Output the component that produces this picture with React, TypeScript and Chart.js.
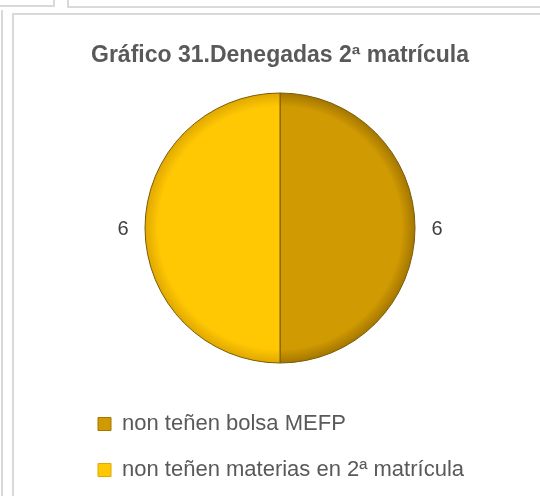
import React, { useEffect, useRef } from "react";
import { Chart, registerables } from "chart.js";

Chart.register(...registerables);

const TITLE = "Gráfico 31.Denegadas 2ª matrícula";
const categories = ["non teñen bolsa MEFP", "non teñen materias en 2ª matrícula"];
const values = [6, 6];
const sliceColors = ["#D09A02", "#FFC803"];
const sliceEdgeColors = ["#A47600", "#E0A800"];
const sliceBorder = "#7A5C08";
const PIE_RADIUS = 135;

const FONT = "'Liberation Sans', Arial, sans-serif";

const outsideLabels = {
  id: "outsideLabels",
  afterDatasetsDraw(chart: any) {
    const meta = chart.getDatasetMeta(0);
    const ctx = chart.ctx;
    ctx.save();
    ctx.font = `20px ${FONT}`;
    ctx.fillStyle = "#404040";
    ctx.textAlign = "center";
    ctx.textBaseline = "middle";
    meta.data.forEach((arc: any, i: number) => {
      const p = arc.getProps(["x", "y", "startAngle", "endAngle", "outerRadius"], true);
      const mid = (p.startAngle + p.endAngle) / 2;
      const r = p.outerRadius + 22;
      ctx.fillText(String(values[i]), p.x + Math.cos(mid) * r, p.y + Math.sin(mid) * r + 1);
    });
    ctx.restore();
  },
};

export default function App() {
  const ref = useRef<HTMLCanvasElement | null>(null);
  useEffect(() => {
    if (!ref.current) return;
    const chart = new Chart(ref.current, {
      type: "pie",
      data: {
        labels: categories,
        datasets: [
          {
            data: values,
            backgroundColor: (c: any) => {
              const ch = c.chart;
              const a = ch.chartArea;
              const i = c.dataIndex ?? 0;
              if (!a) return sliceColors[i];
              const cx = (a.left + a.right) / 2;
              const cy = (a.top + a.bottom) / 2;
              const g = ch.ctx.createRadialGradient(cx, cy, 0, cx, cy, PIE_RADIUS);
              g.addColorStop(0, sliceColors[i]);
              g.addColorStop(0.9, sliceColors[i]);
              g.addColorStop(1, sliceEdgeColors[i]);
              return g;
            },
            borderColor: sliceBorder,
            borderWidth: 1,
            radius: PIE_RADIUS,
          } as any,
        ],
      },
      options: {
        responsive: false,
        animation: false,
        layout: { padding: { top: 10, left: 74, right: 54, bottom: 5 } },
        plugins: {
          title: {
            display: true,
            text: TITLE,
            color: "#595959",
            font: { family: FONT, size: 23, weight: "bold", lineHeight: 1.0 },
            padding: { top: 34, bottom: 0 },
          },
          legend: {
            display: true,
            position: "bottom",
            align: "start",
            labels: {
              color: "#595959",
              font: { family: FONT, size: 22 },
              boxWidth: 13,
              boxHeight: 13,
              padding: 24,
              generateLabels: () =>
                categories.map((t, i) => ({
                  text: t,
                  fillStyle: sliceColors[i],
                  strokeStyle: sliceEdgeColors[i],
                  lineWidth: 1,
                  hidden: false,
                  index: i,
                  fontColor: "#595959",
                })),
            },
          },
          tooltip: { enabled: false },
        },
      },
      plugins: [outsideLabels],
    });
    return () => chart.destroy();
  }, []);

  const line = "#d9d9d9";
  return (
    <div style={{ position: "fixed", left: 0, top: 0, width: 540, height: 496, overflow: "hidden", background: "#fff" }}>
      <div style={{ position: "absolute", left: -10, top: -10, width: 61, height: 13, border: `2px solid ${line}` }} />
      <div style={{ position: "absolute", left: 67, top: -10, width: 600, height: 14, border: `2px solid ${line}` }} />
      <div style={{ position: "absolute", left: 1, top: 10, width: 2, height: 500, background: line }} />
      <div style={{ position: "absolute", left: 12, top: 13, width: 600, height: 600, border: `2px solid ${line}` }} />
      <canvas ref={ref} width={540} height={496} style={{ position: "absolute", left: 0, top: 0 }} />
    </div>
  );
}
